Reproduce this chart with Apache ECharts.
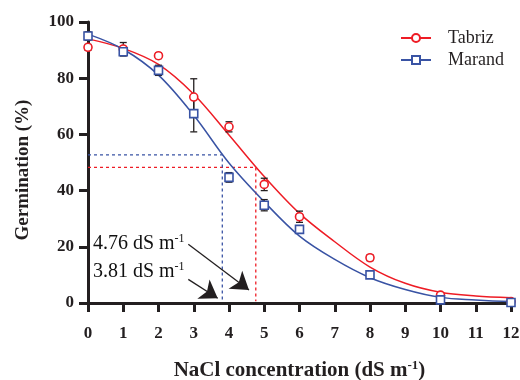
<!DOCTYPE html>
<html>
<head>
<meta charset="utf-8">
<script src="https://cdn.jsdelivr.net/npm/echarts@6/dist/echarts.min.js"></script>
<style>html,body{margin:0;padding:0;background:#fff}#c{width:520px;height:380px}</style>
</head>
<body>
<div id="c"></div>
<script>
// ---- data ----
const xs = [0, 1, 2, 3, 4, 5, 6, 8, 10, 12];
const tabriz = [91.0, 90.4, 88.0, 73.3, 62.7, 42.2, 30.7, 16.1, 2.8, 0.5];
const tabrizErr = [1.0, 2.3, 1.0, 6.5, 1.8, 2.2, 2.0, 1.0, 0.8, 0.5];
const marand = [95.0, 89.4, 82.8, 67.4, 44.7, 34.8, 26.2, 10.0, 1.1, 0.2];
const marandErr = [1.5, 1.5, 1.8, 6.5, 1.7, 2.0, 1.0, 1.0, 0.8, 0.5];

const fitX = [0, 1, 2, 3, 4, 5, 6, 7, 8, 9, 10, 11, 12];
const tabrizFit = [94.0, 90.6, 84.9, 74.3, 59.8, 45.0, 31.9, 21.8, 12.8, 7.0, 3.8, 2.5, 1.9];
const marandFit = [95.7, 90.3, 81.1, 66.8, 49.8, 36.0, 23.8, 15.5, 9.0, 4.8, 2.0, 1.1, 0.5];

const tabrizX50 = 4.76, tabrizY50 = 48.3;
const marandX50 = 3.81, marandY50 = 52.7;

const seriesNames = ['Tabriz', 'Marand'];
const annotTexts = ['4.76 dS m', '3.81 dS m'];
const annotPos = [[0.14, 21.2], [0.14, 11.1]];
const arrowStart = [[2.845, 20.9], [2.845, 8.4]];
const arrowEnd = [[4.567, 4.63], [3.68, 1.67]];

const xTicks = [0, 12, 1];
const yTicks = [0, 100, 20];

// ---- styling ----
const RED = '#ee1c25', BLUE = '#3953a4', INK = '#231f20';
const SERIF = 'Liberation Serif';

const chart = echarts.init(document.getElementById('c'), null, {renderer: 'canvas'});

function errRender(params, api) {
  const x = api.value(0), lo = api.value(1), hi = api.value(2);
  const a = api.coord([x, lo]), b = api.coord([x, hi]);
  const w = 3.5;
  const st = {stroke: INK, lineWidth: 1.3};
  return {type: 'group', children: [
    {type: 'line', shape: {x1: a[0], y1: a[1], x2: b[0], y2: b[1]}, style: st},
    {type: 'line', shape: {x1: a[0] - w, y1: a[1], x2: a[0] + w, y2: a[1]}, style: st},
    {type: 'line', shape: {x1: b[0] - w, y1: b[1], x2: b[0] + w, y2: b[1]}, style: st}
  ]};
}

const supRich = {sup: {fontSize: 12, fontFamily: SERIF, verticalAlign: 'top', padding: [0, 0, 10, 0], color: '#111'}};

const option = {
  animation: false,
  backgroundColor: '#fff',
  grid: {left: 88, right: 9, top: 22, bottom: 77, outerBoundsMode: 'none', containLabel: false},
  legend: {
    data: seriesNames,
    orient: 'vertical',
    left: 395, top: 23,
    itemWidth: 30, itemHeight: 10, itemGap: 2,
    textStyle: {fontFamily: SERIF, fontSize: 18, color: INK, lineHeight: 20, padding: [0, 0, 0, 12]}
  },
  xAxis: {
    type: 'value', min: xTicks[0], max: xTicks[1], interval: xTicks[2],
    axisLine: {lineStyle: {color: INK, width: 3}},
    axisTick: {length: 9, lineStyle: {color: INK, width: 3}},
    axisLabel: {fontFamily: SERIF, fontWeight: 'bold', fontSize: 17, color: INK, margin: 22},
    splitLine: {show: false},
    name: 'NaCl concentration (dS m{sup|-1})',
    nameLocation: 'middle', nameGap: 56,
    nameTextStyle: {fontFamily: SERIF, fontWeight: 'bold', fontSize: 21, color: INK,
      rich: {sup: {fontSize: 13, fontFamily: SERIF, fontWeight: 'bold', verticalAlign: 'top', padding: [0, 0, 10, 0], color: INK}}}
  },
  yAxis: {
    type: 'value', min: yTicks[0], max: yTicks[1], interval: yTicks[2],
    axisLine: {show: true, lineStyle: {color: INK, width: 3}},
    axisTick: {show: true, length: 9, lineStyle: {color: INK, width: 3}},
    axisLabel: {fontFamily: SERIF, fontWeight: 'bold', fontSize: 17, color: INK, margin: 14},
    splitLine: {show: false},
    name: 'Germination (%)',
    nameLocation: 'middle', nameGap: 55,
    nameTextStyle: {fontFamily: SERIF, fontWeight: 'bold', fontSize: 19, color: INK, padding: [0, 15, 0, 0]}
  },
  series: [
    {
      name: seriesNames[0], type: 'line', smooth: 0.35, showSymbol: false,
      symbol: 'emptyCircle', symbolSize: 7,
      itemStyle: {color: RED, borderWidth: 1.5}, lineStyle: {color: RED, width: 1.5},
      data: fitX.map((x, i) => [x, tabrizFit[i]]), z: 3
    },
    {
      name: seriesNames[1], type: 'line', smooth: 0.35, showSymbol: false,
      symbol: 'emptyRect', symbolSize: 7,
      itemStyle: {color: BLUE, borderWidth: 1.5}, lineStyle: {color: BLUE, width: 1.5},
      data: fitX.map((x, i) => [x, marandFit[i]]), z: 3
    },
    {
      name: 'tabrizRef', type: 'line', showSymbol: false, symbol: 'none',
      lineStyle: {color: RED, width: 1.3, type: [3, 3]},
      data: [[0, tabrizY50], [tabrizX50, tabrizY50], [tabrizX50, 0.6]], z: 2
    },
    {
      name: 'marandRef', type: 'line', showSymbol: false, symbol: 'none',
      lineStyle: {color: BLUE, width: 1.3, type: [3, 3]},
      data: [[0, marandY50], [marandX50, marandY50], [marandX50, 0.6]], z: 2
    },
    {
      name: 'tabrizErr', type: 'custom', renderItem: errRender, encode: {x: 0, y: [1, 2]},
      data: xs.map((x, i) => [x, tabriz[i] - tabrizErr[i], tabriz[i] + tabrizErr[i]]), z: 4, clip: false
    },
    {
      name: 'marandErr', type: 'custom', renderItem: errRender, encode: {x: 0, y: [1, 2]},
      data: xs.map((x, i) => [x, marand[i] - marandErr[i], marand[i] + marandErr[i]]), z: 4, clip: false
    },
    {
      name: 'tabrizPts', type: 'scatter', symbol: 'circle', symbolSize: 8,
      itemStyle: {color: '#ffffff', borderColor: RED, borderWidth: 1.6, opacity: 1},
      data: xs.map((x, i) => [x, tabriz[i]]), z: 6
    },
    {
      name: 'marandPts', type: 'scatter', symbol: 'rect', symbolSize: 8,
      itemStyle: {color: '#ffffff', borderColor: BLUE, borderWidth: 1.6, opacity: 1},
      data: xs.map((x, i) => [x, marand[i]]), z: 6
    },
    {
      name: 'annot', type: 'scatter', symbolSize: 0, z: 7,
      silent: true,
      itemStyle: {color: 'rgba(0,0,0,0)', opacity: 1},
      label: {show: true, position: 'right', distance: 0, fontFamily: SERIF, fontSize: 20, color: '#111', opacity: 1,
        formatter: p => annotTexts[p.dataIndex] + '{sup|-1}', rich: supRich},
      data: annotPos,
      markLine: {
        silent: true, symbol: ['none', 'arrow'], symbolSize: 17,
        itemStyle: {color: INK, opacity: 1},
        lineStyle: {color: INK, width: 1.3, type: 'solid', opacity: 1},
        label: {show: false},
        data: arrowStart.map((s, i) => [{coord: s}, {coord: arrowEnd[i]}])
      }
    }
  ]
};
chart.setOption(option);
</script>
</body>
</html>
